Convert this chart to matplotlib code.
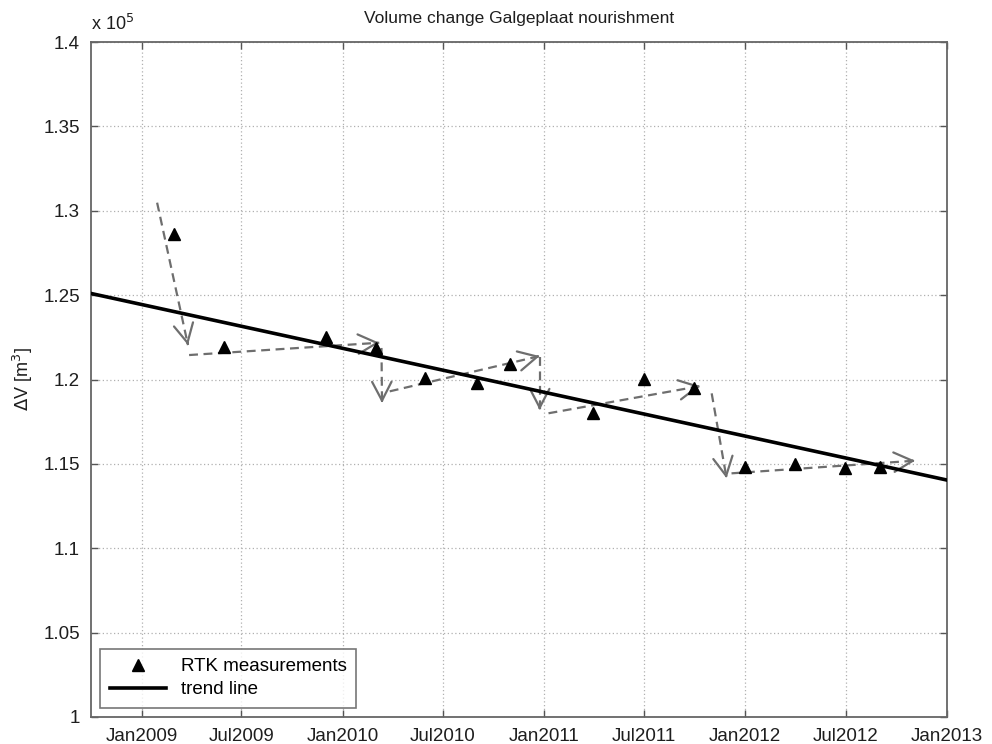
import datetime as dt
import numpy as np
import matplotlib
matplotlib.use("Agg")
import matplotlib.pyplot as plt
import matplotlib.dates as mdates
from matplotlib.ticker import FuncFormatter

plt.rcParams['font.family'] = ['Liberation Sans', 'DejaVu Sans']

# RTK measurements (dV in 1e5 m3)
meas_dates = ["2009-02-28", "2009-05-31", "2009-12-01", "2010-03-02", "2010-05-30",
              "2010-09-01", "2010-10-31", "2011-03-31", "2011-07-01", "2011-09-30",
              "2012-01-01", "2012-04-01", "2012-06-30", "2012-09-01"]
meas_vals = [1.2860, 1.2192, 1.2252, 1.2185, 1.2007,
             1.1977, 1.2092, 1.1803, 1.2005, 1.1948,
             1.1483, 1.1499, 1.1474, 1.1483]

# trend line end points
trend_dates = ["2008-10-01", "2013-01-01"]
trend_vals = [1.2510, 1.1404]

# dashed seasonal arrows: start -> end
arrow_start_dates = ["2009-01-29", "2009-03-28", "2010-03-12", "2010-03-27",
                     "2010-12-24", "2011-01-09", "2011-11-01", "2011-12-07"]
arrow_start_vals = [1.3048, 1.2145, 1.2187, 1.1930, 1.2135, 1.1800, 1.1918, 1.1444]
arrow_end_dates = ["2009-03-26", "2010-03-08", "2010-03-13", "2010-12-24",
                   "2010-12-24", "2011-10-11", "2011-11-28", "2012-11-04"]
arrow_end_vals = [1.2204, 1.2218, 1.1861, 1.2139, 1.1819, 1.1961, 1.1415, 1.1519]

xtick_dates = ["2009-01-01", "2009-07-01", "2010-01-01", "2010-07-01", "2011-01-01",
               "2011-07-01", "2012-01-01", "2012-07-01", "2013-01-01"]


def d(s):
    return dt.datetime.strptime(s, "%Y-%m-%d")


fig = plt.figure(figsize=(9.92, 7.44), dpi=100)
ax = fig.add_axes([0.0917, 0.0363, 0.863, 0.9072])

ax.set_xlim(d("2008-10-01"), d("2013-01-01"))
ax.set_ylim(1.0, 1.4)

arrow_col = "#6e6e6e"
for s0, v0, s1, v1 in zip(arrow_start_dates, arrow_start_vals, arrow_end_dates, arrow_end_vals):
    x0, x1 = mdates.date2num(d(s0)), mdates.date2num(d(s1))
    ax.plot([x0, x1], [v0, v1], color=arrow_col, lw=1.6, ls=(0, (4, 2.5)), zorder=2)
    # solid open head, direction taken in display space
    p0 = ax.transData.transform((x0, v0))
    p1 = ax.transData.transform((x1, v1))
    u = (p1 - p0) / np.hypot(*(p1 - p0))
    ax.annotate("", xy=(x1, v1), xytext=(-u[0] * 2, -u[1] * 2), textcoords="offset points",
                arrowprops=dict(arrowstyle="->,head_length=1.35,head_width=0.7",
                                color=arrow_col, lw=1.6, shrinkA=0, shrinkB=0),
                zorder=2)

ax.plot([d(s) for s in meas_dates], meas_vals, ls="none", marker="^", ms=9,
        color="black", label="RTK measurements", zorder=4)
ax.plot([d(s) for s in trend_dates], trend_vals, color="black", lw=2.6,
        label="trend line", zorder=3)

ax.set_xticks([d(s) for s in xtick_dates])
ax.xaxis.set_major_formatter(mdates.DateFormatter("%b%Y"))
ax.set_yticks([1.0 + 0.05 * i for i in range(9)])
ax.yaxis.set_major_formatter(FuncFormatter(lambda v, p: "%g" % round(v, 2)))

ax.grid(True, ls=(0, (1, 2)), color="#b0b0b0", lw=0.9)
ax.tick_params(direction="in", length=5, width=1, colors="#555555",
               labelcolor="#1e1e1e", labelsize=13.5, top=True, right=True, pad=8)
for sp in ax.spines.values():
    sp.set_color("#666666")
    sp.set_linewidth(1.3)

ax.set_title("Volume change Galgeplaat nourishment", fontsize=12.5, color="#1e1e1e", pad=14)
ax.set_ylabel(r"$\Delta$V [m$^3$]", fontsize=13, color="#1e1e1e", labelpad=6)
ax.text(0.0, 1.012, r"x 10$^5$", transform=ax.transAxes, fontsize=13, color="#1e1e1e",
        ha="left", va="bottom")

leg = ax.legend(loc="lower left", fontsize=13.5, frameon=True, fancybox=False,
                edgecolor="#555555", borderaxespad=0.5, handlelength=3.0,
                borderpad=0.5, labelspacing=0.3)
leg.get_frame().set_linewidth(1.2)

fig.savefig("out.png", dpi=100)
